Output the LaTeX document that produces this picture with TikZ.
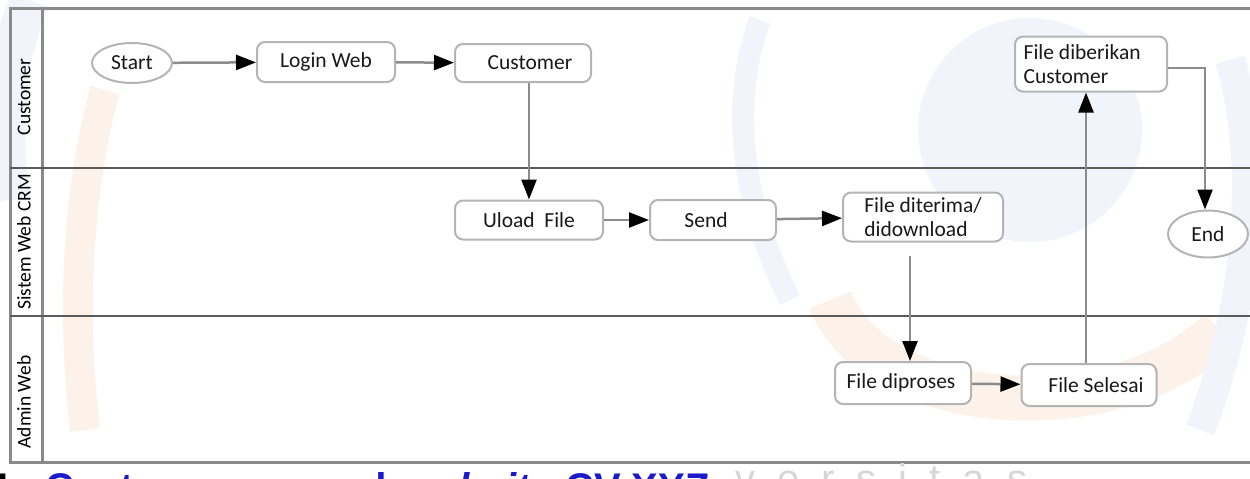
\documentclass[tikz,border=0pt]{standalone}
\usepackage{fontspec}
\setmainfont{Carlito}
\newfontfamily\arialfont{Liberation Sans}
\usetikzlibrary{arrows.meta,shapes.geometric}
\definecolor{framegray}{HTML}{8A8A8A}
\definecolor{lanegray}{HTML}{5A5A5A}
\definecolor{boxgray}{HTML}{B4B4B4}
\definecolor{linkgray}{HTML}{8C8C8C}
\definecolor{capblue}{HTML}{1A1AC8}
\definecolor{wmblue}{HTML}{F1F4FA}
\definecolor{wmorange}{HTML}{FDF2EA}
\tikzset{
  stepbox/.style={draw=boxgray, line width=2pt, rounded corners=8pt, fill=white,
    inner sep=0pt, text=black!90, font=\fontsize{21.5}{24}\selectfont},
  endpoint/.style={ellipse, draw=boxgray, line width=2pt, fill=white,
    inner sep=0pt, text=black!90, font=\fontsize{21.5}{24}\selectfont},
  link/.style={draw=linkgray, line width=2.5pt,
    -{Triangle[length=20pt,width=15pt,fill=black,color=black]}},
  lanelabel/.style={rotate=90, font=\fontsize{19.5}{22}\selectfont, inner sep=1pt},
  frameline/.style={draw=framegray, line width=3pt},
  laneline/.style={draw=lanegray, line width=2.5pt},
  captext/.style={anchor=base west, text=capblue, inner sep=0pt,
    font=\arialfont\bfseries\fontsize{40}{44}\selectfont}
}
\begin{document}
\begin{tikzpicture}[x=1pt,y=-1pt]
\useasboundingbox (0,0) rectangle (1250,479);
% watermark
\fill[wmblue] (1030,130) circle (112);
\draw[wmblue, line width=40pt] (30,0) .. controls (5,60) and (0,120) .. (10,200);
\draw[wmorange, line width=30pt] (105,90) .. controls (80,180) and (70,300) .. (85,430);
\draw[wmorange, line width=45pt] (830,300) .. controls (880,420) and (1120,430) .. (1220,330);
\draw[wmblue, line width=30pt] (1230,60) .. controls (1260,160) and (1250,300) .. (1200,430);
\draw[wmblue, line width=22pt] (760,20) .. controls (730,100) and (740,200) .. (790,300);
% frame
\draw[frameline] (1250,8) -- (10,8) -- (10,462) -- (1250,462);
\draw[frameline] (42,8) -- (42,462);
\draw[laneline] (10,168) -- (1250,168);
\draw[laneline] (10,316) -- (1250,316);
% lane labels
\node[lanelabel] (lcust) at (24,97) {Customer};
\node[lanelabel] (lsys) at (24,242) {Sistem Web CRM};
\node[lanelabel] (ladm) at (24,402) {Admin Web};
% nodes
\node[endpoint, minimum width=80pt, minimum height=40pt] (start) at (132,63) {Start};
\node[stepbox, minimum width=138pt, minimum height=40pt] (login) at (326,62) {Login Web};
\node[stepbox, minimum width=136pt, minimum height=38pt] (cust) at (523,63) {\hspace*{14pt}Customer};
\node[stepbox, minimum width=148pt, minimum height=39pt] (upload) at (529,220) {Uload\ \ File};
\node[stepbox, minimum width=126pt, minimum height=40pt] (send) at (713,220) {Send\hspace*{14pt}};
\node[stepbox, minimum width=160pt, minimum height=49pt, align=left] (terima) at (923,217) {File diterima/\\didownload};
\node[stepbox, minimum width=136pt, minimum height=42pt] (proses) at (903,383) {File diproses\hspace*{4pt}};
\node[stepbox, minimum width=135pt, minimum height=42pt] (selesai) at (1089,385) {\hspace*{14pt}File Selesai};
\node[stepbox, minimum width=152pt, minimum height=55pt, align=left] (beri) at (1091,64) {File diberikan\\Customer\hspace*{50pt}};
\node[endpoint, minimum width=80pt, minimum height=47pt] (end) at (1208,234) {End};
% connectors
\draw[link] (start) -- (login);
\draw[link] (login) -- (cust);
\draw[link] (upload.north |- cust.south) -- (upload.north);
\draw[link] (upload) -- (send);
\draw[link] (send) -- (terima);
\draw[link] ([xshift=7pt,yshift=-13pt]proses.north |- terima.south) -- ([xshift=7pt]proses.north);
\draw[link] (proses) -- (selesai);
\draw[link] ([xshift=-3pt]selesai.north) -- ([xshift=-3pt]selesai.north |- beri.south);
\draw[link] ([yshift=-4pt]beri.east) -| ([xshift=-3pt]end.north);
% caption (cut off at the bottom edge, as in the reference)
\node[anchor=base east, inner sep=0pt, font=\arialfont\bfseries\fontsize{40}{44}\selectfont] (capnum) at (10,501) {4};
\node[captext] (capa) at (45,501) {Customer};
\node[captext] (capb) at (316,501) {pada};
\node[captext, font=\arialfont\bfseries\itshape\fontsize{40}{44}\selectfont] (capc) at (405,501) {website};
\node[captext] (capd) at (565,501) {CV XYZ};
\node[anchor=base west, inner sep=0pt, text=black!16, font=\arialfont\fontsize{40}{44}\selectfont] (wmtext) at (735,492)
  {v\hspace{22pt}e\hspace{22pt}r\hspace{22pt}s\hspace{22pt}i\hspace{22pt}t\hspace{22pt}a\hspace{22pt}s};
\end{tikzpicture}
\end{document}
